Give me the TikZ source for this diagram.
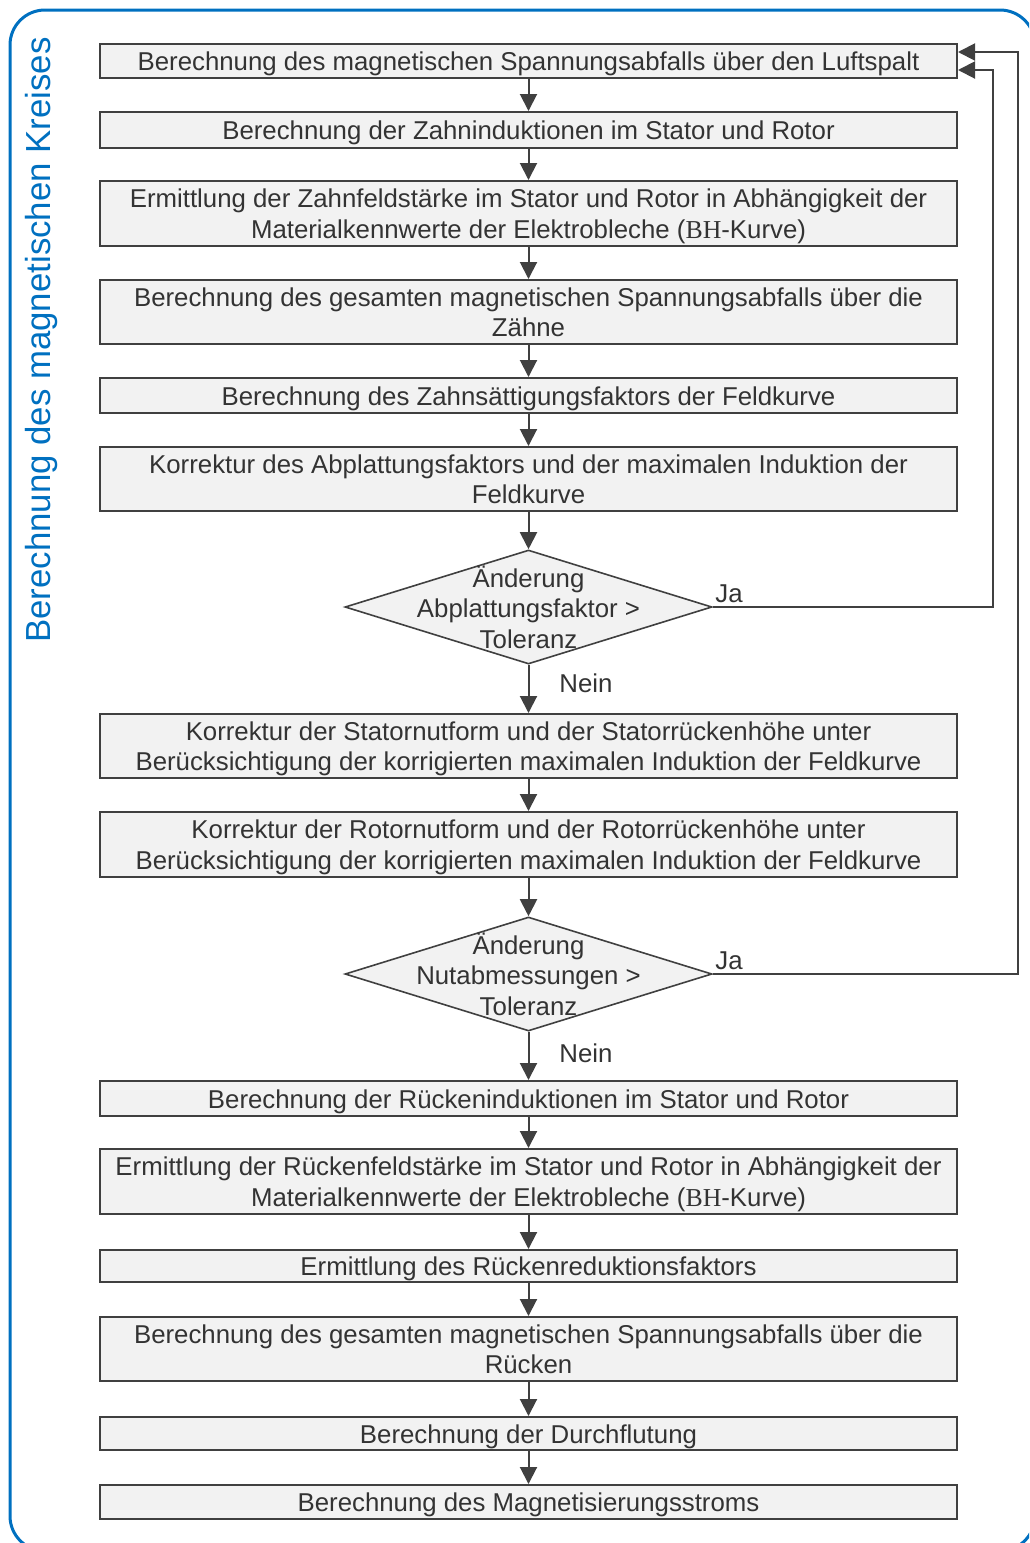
\documentclass[tikz,border=0pt]{standalone}
\usepackage{fontspec}
\setmainfont{Liberation Sans}
\newfontfamily\serifbh{Liberation Serif}
\usetikzlibrary{shapes.geometric,arrows.meta,calc}
\definecolor{frameblue}{HTML}{0070C0}
\definecolor{boxfill}{HTML}{F2F2F2}
\definecolor{boxline}{HTML}{404040}
\definecolor{txt}{HTML}{333333}
\begin{document}
\begin{tikzpicture}[x=1pt,y=-1pt,
 stepbox/.style={draw=boxline, fill=boxfill, line width=2pt, minimum width=857pt, inner sep=0pt, align=center, text=txt, text height=25pt, text depth=5.5pt, font=\fontsize{25.8}{30.5}\selectfont},
 twobox/.style={stepbox, text height=55.3pt},
 decbox/.style={diamond, draw=boxline, fill=boxfill, line width=1.6pt, minimum width=367pt, minimum height=114pt, inner sep=0pt},
 dectext/.style={align=center, text=txt, font=\fontsize{25.8}{30.5}\selectfont, inner sep=0pt},
 flow/.style={draw=boxline, line width=2pt, -{Triangle[width=17pt,length=17pt]}},
 lbl/.style={text=txt, font=\fontsize{25.8}{30}\selectfont, inner sep=0pt}]
\useasboundingbox (0,0) rectangle (1029,1543);
\clip (0,0) rectangle (1029,1543);
\draw[frameblue, line width=3pt, rounded corners=35pt] (10,10) rectangle (1035,1551);
\node[rotate=90, text=frameblue, font=\fontsize{34.8}{40}\selectfont, inner sep=0pt] (title) at (42,340) {Berechnung des magnetischen Kreises};

\node[stepbox, minimum height=34pt] (b1) at (528.5,61) {Berechnung des magnetischen Spannungsabfalls über den Luftspalt};
\node[stepbox, minimum height=36pt] (b2) at (528.5,130) {Berechnung der Zahninduktionen im Stator und Rotor};
\node[twobox, minimum height=65pt] (b3) at (528.5,213.5) {Ermittlung der Zahnfeldstärke im Stator und Rotor in Abhängigkeit der\\Materialkennwerte der Elektrobleche ({\serifbh BH}-Kurve)};
\node[twobox, minimum height=64pt] (b4) at (528.5,312) {Berechnung des gesamten magnetischen Spannungsabfalls über die\\Zähne};
\node[stepbox, minimum height=35pt] (b5) at (528.5,395.5) {Berechnung des Zahnsättigungsfaktors der Feldkurve};
\node[twobox, minimum height=64pt] (b6) at (528.5,479) {Korrektur des Abplattungsfaktors und der maximalen Induktion der\\Feldkurve};
\node[decbox] (d1) at (528.5,607) {};
\node[dectext] (d1t) at (528.5,607) {Änderung\\Abplattungsfaktor >\\Toleranz};
\node[twobox, minimum height=64pt] (b7) at (528.5,746) {Korrektur der Statornutform und der Statorrückenhöhe unter\\Berücksichtigung der korrigierten maximalen Induktion der Feldkurve};
\node[twobox, minimum height=65pt] (b8) at (528.5,844.5) {Korrektur der Rotornutform und der Rotorrückenhöhe unter\\Berücksichtigung der korrigierten maximalen Induktion der Feldkurve};
\node[decbox] (d2) at (528.5,974) {};
\node[dectext] (d2t) at (528.5,974) {Änderung\\Nutabmessungen >\\Toleranz};
\node[stepbox, minimum height=35pt] (b9) at (528.5,1098.5) {Berechnung der Rückeninduktionen im Stator und Rotor};
\node[twobox, minimum height=65pt] (b10) at (528.5,1181.5) {Ermittlung der Rückenfeldstärke im Stator und Rotor in Abhängigkeit der\\Materialkennwerte der Elektrobleche ({\serifbh BH}-Kurve)};
\node[stepbox, minimum height=32pt] (b11) at (528.5,1266) {Ermittlung des Rückenreduktionsfaktors};
\node[twobox, minimum height=64pt] (b12) at (528.5,1349) {Berechnung des gesamten magnetischen Spannungsabfalls über die\\Rücken};
\node[stepbox, minimum height=33pt] (b13) at (528.5,1433.5) {Berechnung der Durchflutung};
\node[stepbox, minimum height=34pt] (b14) at (528.5,1502) {Berechnung des Magnetisierungsstroms};

\draw[flow] (b1) -- (b2);
\draw[flow] (b2) -- (b3);
\draw[flow] (b3) -- (b4);
\draw[flow] (b4) -- (b5);
\draw[flow] (b5) -- (b6);
\draw[flow] (b6) -- (d1);
\draw[flow] (d1) -- (b7);
\draw[flow] (b7) -- (b8);
\draw[flow] (b8) -- (d2);
\draw[flow] (d2) -- (b9);
\draw[flow] (b9) -- (b10);
\draw[flow] (b10) -- (b11);
\draw[flow] (b11) -- (b12);
\draw[flow] (b12) -- (b13);
\draw[flow] (b13) -- (b14);

\draw[flow] (d1.east) -- ++(280,0) |- ($(b1.east)+(0,9)$);
\draw[flow] (d2.east) -- ++(305,0) |- ($(b1.east)+(0,-9)$);

\node[lbl] (ja1) at (729,594) {Ja};
\node[lbl] (ja2) at (729,961) {Ja};
\node[lbl] (nein1) at (586,683) {Nein};
\node[lbl] (nein2) at (586,1053) {Nein};
\end{tikzpicture}
\end{document}
